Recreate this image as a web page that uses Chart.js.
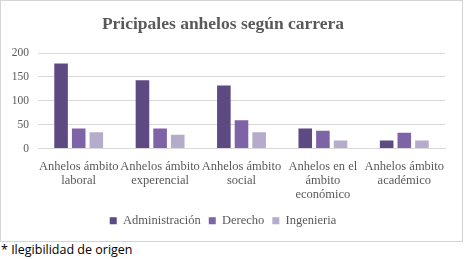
<!DOCTYPE html>
<html>
<head>
<meta charset="utf-8">
<script src="https://cdn.jsdelivr.net/npm/chart.js@4.4.1/dist/chart.umd.min.js"></script>
<style>
  body { margin: 0; background: #fff; }
  #caja { position: absolute; left: 0; top: 0; width: 461px; height: 240px; border: 1px solid #d4d4d4; }
  #nota { position: absolute; left: 1px; top: 241px; font-family: "Open Sans", sans-serif; font-size: 12.5px; color: #000; }
</style>
</head>
<body>
<div id="caja"><canvas id="g_anhelos" width="461" height="240"></canvas></div>
<div id="nota">* Ilegibilidad de origen</div>
<script>
// categorias (etiquetas en varias lineas)
const categorias = [
    ["Anhelos ámbito", "laboral"],
    ["Anhelos ámbito", "experencial"],
    ["Anhelos ámbito", "social"],
    ["Anhelos en el", "ámbito", "económico"],
    ["Anhelos ámbito", "académico"]
];
const series = ["Administración", "Derecho", "Ingenieria"];
const administracion = [178, 143, 132, 42, 17];
const derecho = [42, 42, 59, 37, 33];
const ingenieria = [34, 29, 34, 17, 17];
const colores = ['#5d4a82', '#7e63a6', '#b5abcb'];

const gris = '#595959';
const serif = '"Liberation Serif", "Times New Roman", serif';

function dibujar() {
    const context = document.getElementById('g_anhelos').getContext('2d');
    const valores = [administracion, derecho, ingenieria];
    let datasets = [];
    for (let i = 0; i < series.length; i++) {
        datasets.push({
            label: series[i],
            data: valores[i],
            backgroundColor: colores[i],
            borderWidth: 0,
            categoryPercentage: 0.65,
            barPercentage: 0.77
        });
    }
    let options = {
        responsive: false,
        animation: false,
        layout: { padding: { left: 0, right: 17, top: 0, bottom: 4 } },
        plugins: {
            legend: {
                position: 'bottom',
                labels: {
                    boxWidth: 7,
                    boxHeight: 7,
                    padding: 8,
                    color: gris,
                    font: { family: serif, size: 12.5 }
                }
            },
            title: {
                display: true,
                text: 'Pricipales anhelos según carrera',
                color: gris,
                font: { family: serif, size: 17.5, weight: 'bold' },
                padding: { top: 13, bottom: 18 }
            },
            tooltip: { enabled: false }
        },
        scales: {
            x: {
                grid: { display: false },
                border: { color: '#d9d9d9' },
                ticks: {
                    color: gris,
                    maxRotation: 0,
                    autoSkip: false,
                    padding: 3,
                    font: { family: serif, size: 12.5, lineHeight: 1.12 }
                },
                afterFit: function(scale) { scale.height = 58; }
            },
            y: {
                min: 0,
                max: 200,
                grid: { color: '#d9d9d9', drawTicks: false },
                border: { display: false },
                ticks: {
                    stepSize: 50,
                    color: gris,
                    padding: 9,
                    font: { family: serif, size: 11.5 }
                },
                afterFit: function(scale) { scale.width = 37; }
            }
        }
    };
    new Chart(context, {
        type: 'bar',
        data: { labels: categorias, datasets: datasets },
        options: options
    });
}

window.addEventListener('load', () => {
    dibujar();
});
</script>
</body>
</html>
